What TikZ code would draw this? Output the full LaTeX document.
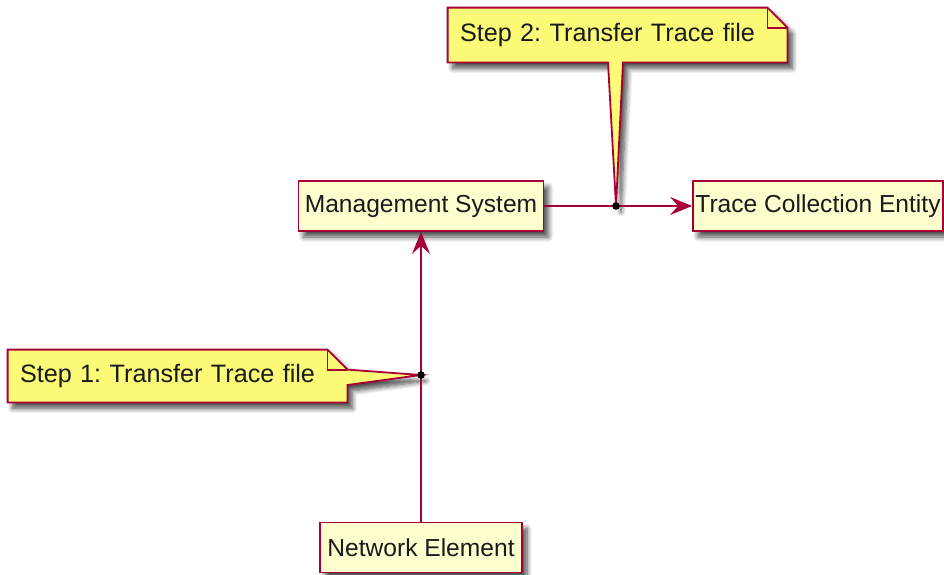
\documentclass[tikz,border=0pt]{standalone}
\usepackage{fontspec}
\setmainfont{Liberation Sans}
\frenchspacing
\usepackage{tikz}
\usetikzlibrary{arrows.meta,calc,backgrounds,shadows.blur}
\definecolor{PumlRed}{HTML}{A80036}
\definecolor{PumlBox}{HTML}{FEFECE}
\definecolor{PumlNote}{HTML}{FBFB77}
\definecolor{PumlText}{HTML}{1A1A1A}

\begin{document}
\begin{tikzpicture}[
    x=0.5pt, y=-0.5pt,
    softshadow/.style={
      blur shadow={shadow xshift=2.5pt, shadow yshift=-3pt,
                   shadow blur radius=2.5pt,
                   shadow blur steps=8, shadow opacity=70}
    },
    component/.style={
      draw=PumlRed,
      fill=PumlBox,
      line width=0.9pt,
      minimum width=#1,
      minimum height=25pt,
      inner sep=0pt,
      font=\fontsize{12.3}{14}\selectfont,
      text=PumlText,
      softshadow
    },
    note/.style={
      minimum width=169.5pt,
      minimum height=#1,
      text width=157.5pt,
      inner xsep=6pt,
      inner ysep=0pt,
      align=left,
      font=\fontsize{12.6}{14}\selectfont,
      text=PumlText
    },
    notebody/.style={
      draw=PumlRed,
      fill=PumlNote,
      line width=0.9pt,
      softshadow
    },
    notefold/.style={
      draw=PumlRed,
      line width=0.9pt
    },
    link/.style={
      -{Stealth[length=11pt, width=9pt, inset=4pt]},
      draw=PumlRed,
      line width=0.9pt
    },
    joint/.style={
      circle,
      fill=black,
      inner sep=0pt,
      minimum size=3.8pt
    }
  ]

  \useasboundingbox (0,0) rectangle (944,574);

  \node[component=122.5pt] (mgmt) at (421,206)   {Management System};
  \node[component=125pt]   (tce)  at (818,206)   {Trace Collection Entity};
  \node[component=101pt]   (ne)   at (421,547.5) {Network Element};

  \coordinate (j1) at (421,375);
  \coordinate (j2) at (616,206);

  \node[note=27pt] (step2) at (617.5,35)  {Step 2: Transfer Trace file};
  \node[note=26pt] (step1) at (177.5,376) {Step 1: Transfer Trace file};

  % note outlines with their pointers
  \begin{scope}[on background layer]
    \draw[notebody] (step2.north west) -- ($(step2.north east)+(-20,0)$)
      -- ($(step2.north east)+(0,20)$) -- (step2.south east)
      -- ($(step2.south)+(5.5,0)$) -- (j2) -- ($(step2.south)+(-9.5,0)$)
      -- (step2.south west) -- cycle;
    \draw[notefold] ($(step2.north east)+(-20,0)$) -- ($(step2.north east)+(-20,20)$)
      -- ($(step2.north east)+(0,20)$);

    \draw[notebody] (step1.north west) -- ($(step1.north east)+(-20,0)$)
      -- ($(step1.north east)+(0,20)$) -- (j1) -- ($(step1.east)+(0,9)$)
      -- (step1.south east) -- (step1.south west) -- cycle;
    \draw[notefold] ($(step1.north east)+(-20,0)$) -- ($(step1.north east)+(-20,20)$)
      -- ($(step1.north east)+(0,20)$);
  \end{scope}

  \draw[link] (ne) -- (j1) -- (mgmt);
  \draw[link] (mgmt) -- (j2) -- (tce);

  \node[joint] at (j1) {};
  \node[joint] at (j2) {};

\end{tikzpicture}
\end{document}
